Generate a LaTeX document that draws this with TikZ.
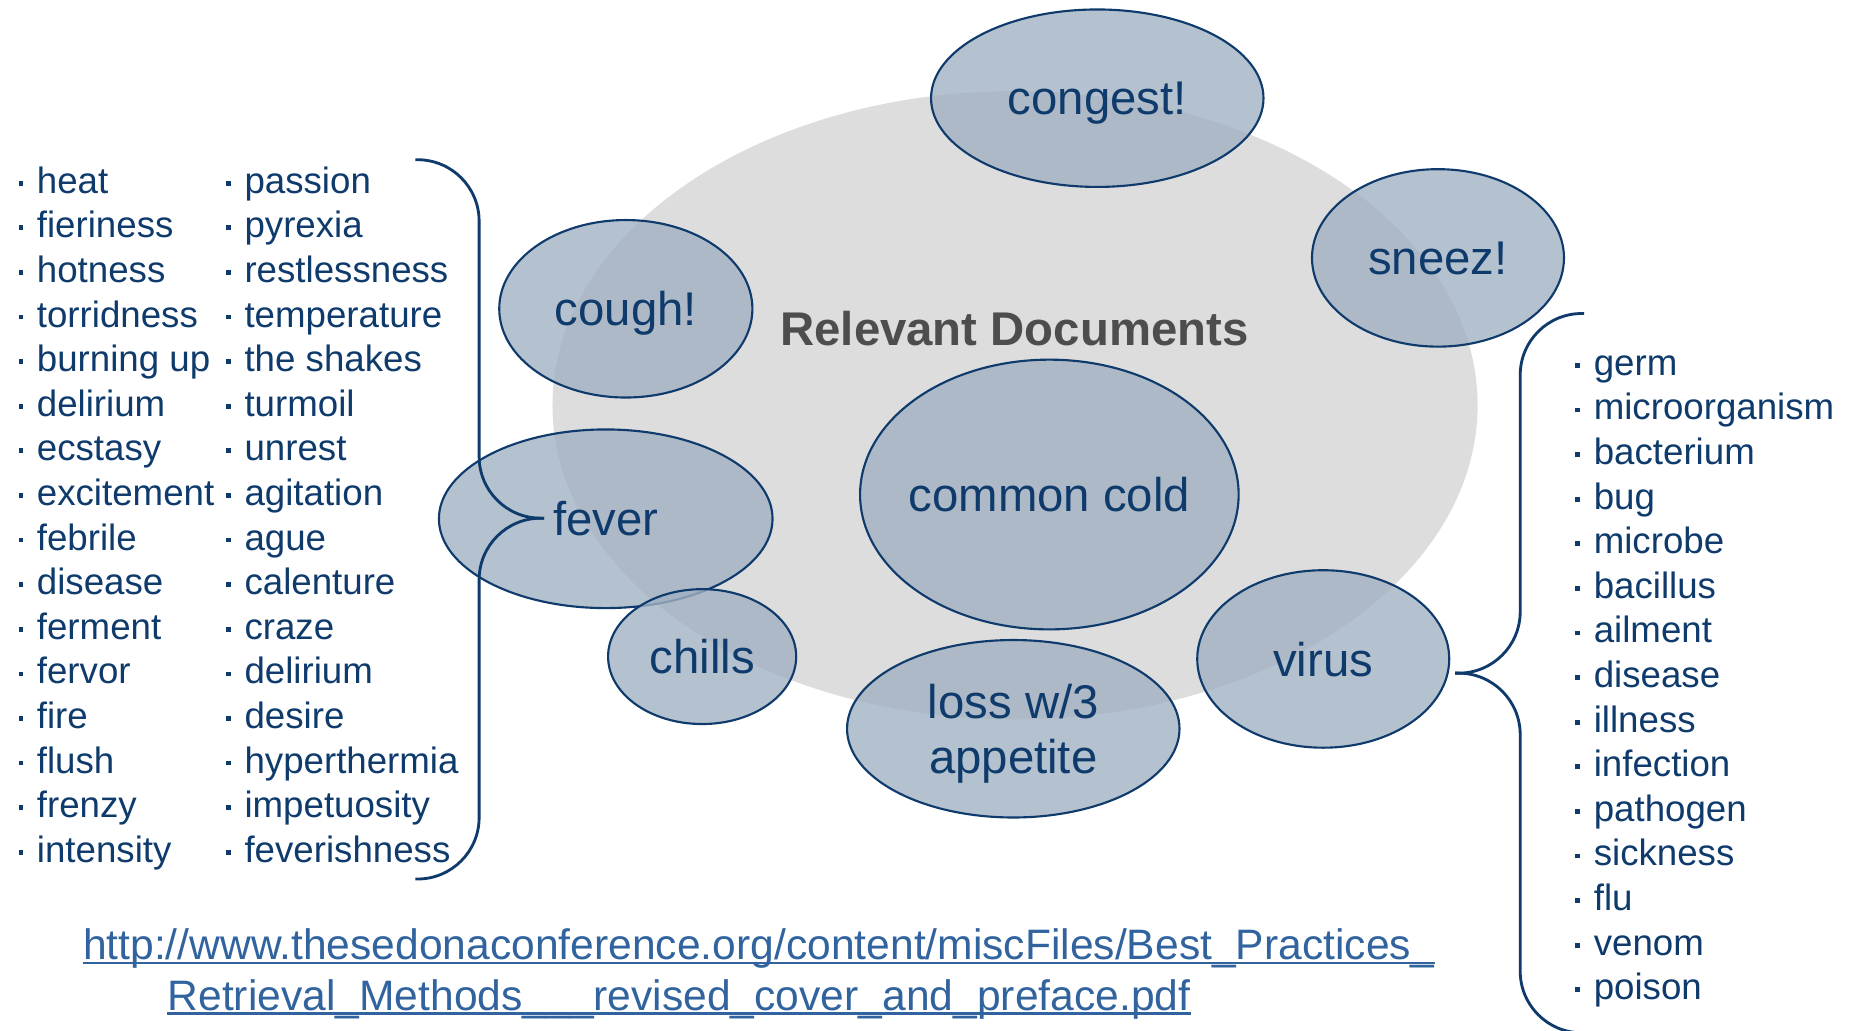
\documentclass[tikz,border=0pt]{standalone}
\usepackage{fontspec}
\setmainfont{Liberation Sans}
\usetikzlibrary{shapes.geometric,positioning}
\definecolor{NavyText}{HTML}{0F3B6C}
\definecolor{BubbleFill}{HTML}{A1B1C2}
\definecolor{DocGray}{HTML}{DDDDDD}
\definecolor{TitleGray}{HTML}{4D4D4D}
\definecolor{LinkBlue}{HTML}{31639E}
\newcommand{\bul}{\rule[6.5pt]{4pt}{4pt}\hspace{11.5pt}}

\begin{document}
\begin{tikzpicture}[x=1pt, y=-1pt,
    bubble/.style={ellipse, draw=NavyText, line width=1.8pt, fill=BubbleFill, fill opacity=0.8, text opacity=1, text=NavyText, inner sep=0pt, text depth=0pt, font=\fontsize{40}{47}\selectfont, align=center},
    item/.style={anchor=base west, inner sep=0pt, text=NavyText, font=\fontsize{31}{37.7}\selectfont},
    link/.style={anchor=base west, inner sep=0pt, text=LinkBlue, font=\fontsize{36}{43}\selectfont},
    brace/.style={draw=NavyText, line width=2.4pt, rounded corners=52pt}
  ]
    \useasboundingbox (0,0) rectangle (1568,871);

    % Relevant documents
    \node[ellipse, fill=DocGray, inner sep=0pt, minimum width=782pt, minimum height=531pt] (docs) at (858,342.5) {};
    \node[anchor=base, inner sep=0pt, text=TitleGray, font=\bfseries\fontsize{40}{48}\selectfont] (title) at (857.5,292) {Relevant Documents};

    % Query terms
    \node[bubble, minimum width=281pt, minimum height=150pt] (congest) at (927.5,83) {congest!};
    \node[bubble, minimum width=213pt, minimum height=150pt] (sneez) at (1215.5,218) {sneez!};
    \node[bubble, minimum width=214pt, minimum height=150pt] (cough) at (529,261) {cough!};
    \node[bubble, minimum width=320pt, minimum height=228pt, inner xsep=-10pt] (cold) at (887,418) {common cold};
    \node[bubble, minimum width=282pt, minimum height=151pt] (fever) at (512,438.5) {fever};
    \node[bubble, minimum width=159pt, minimum height=114pt] (chills) at (593.5,555) {chills};
    \node[bubble, minimum width=281pt, minimum height=150pt] (loss) at (856.5,616) {loss w/3\\appetite};
    \node[bubble, minimum width=213pt, minimum height=150pt] (virus) at (1118.5,557) {virus};

    % Synonyms of fever
    \foreach \w [count=\i] in {heat,fieriness,hotness,torridness,burning up,delirium,ecstasy,excitement,febrile,disease,ferment,fervor,fire,flush,frenzy,intensity}
      \node[item] (fa\i) at (15.5,{163.4+37.7*(\i-1)}) {\bul\w};
    \foreach \w [count=\i] in {passion,pyrexia,restlessness,temperature,the shakes,turmoil,unrest,agitation,ague,calenture,craze,delirium,desire,hyperthermia,impetuosity,feverishness}
      \node[item] (fb\i) at (191,{163.4+37.7*(\i-1)}) {\bul\w};

    % Synonyms of virus
    \foreach \w [count=\i] in {germ,microorganism,bacterium,bug,microbe,bacillus,ailment,disease,illness,infection,pathogen,sickness,flu,venom,poison}
      \node[item] (v\i) at (1331.5,{317.3+37.7*(\i-1)}) {\bul\w};

    % Braces
    \coordinate (lbTop) at (351,135);
    \coordinate (lbTip) at (460,438);
    \coordinate (lbBot) at (351,743);
    \draw[brace] (lbTop) -| ([xshift=-55pt]lbTip) -- (lbTip);
    \draw[brace] (lbTip) -- ([xshift=-55pt]lbTip) |- (lbBot);
    \coordinate (rbTop) at (1339,265);
    \coordinate (rbTip) at (1230,569);
    \coordinate (rbBot) at (1339,873);
    \draw[brace] (rbTop) -| ([xshift=55pt]rbTip) -- (rbTip);
    \draw[brace] (rbTip) -- ([xshift=55pt]rbTip) |- (rbBot);

    % Source link
    \node[link] (u1) at (70,811) {http://www.thesedonaconference.org/content/miscFiles/Best\_Practices\_};
    \node[link] (u2) at (141.5,854) {Retrieval\_Methods\_\_\_revised\_cover\_and\_preface.pdf};
    \draw[LinkBlue, line width=2.5pt] ([yshift=-3pt]u1.base west) -- ([yshift=-3pt]u1.base east);
    \draw[LinkBlue, line width=2.5pt] ([yshift=-3pt]u2.base west) -- ([yshift=-3pt]u2.base east);
  \end{tikzpicture}
\end{document}
